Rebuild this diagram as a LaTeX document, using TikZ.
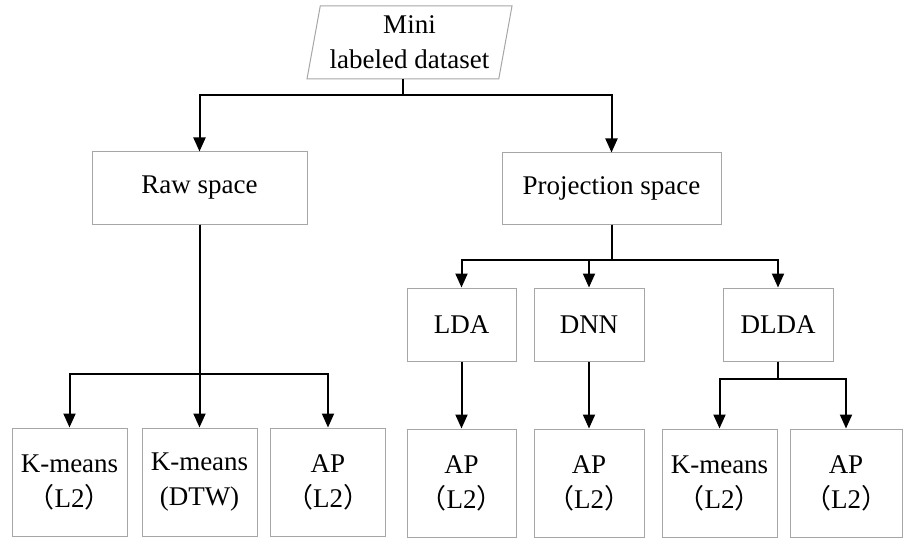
\documentclass[tikz,border=0pt]{standalone}
\usepackage{fontspec}
\setmainfont{Liberation Serif}
\newfontfamily\cjk{Noto Sans CJK SC}
\usetikzlibrary{arrows.meta,shapes.geometric}
\newcommand{\fwl}{{\cjk （}}
\newcommand{\fwr}{{\cjk ）}}
\begin{document}
\begin{tikzpicture}[x=1pt,y=-1pt,
  box/.style={draw=black!35,line width=1pt,rectangle,align=center,inner sep=0pt,
    font=\fontsize{27}{35}\selectfont},
  midbox/.style={box,minimum width=110pt,minimum height=73pt},
  leafbox/.style={box,minimum width=115pt,minimum height=108pt},
  link/.style={line width=2pt,black},
  arr/.style={link,-{Triangle[width=12pt,length=14pt]}}]
\useasboundingbox (0,0) rectangle (904,540);

% input data
\node[box,trapezium,trapezium left angle=76,trapezium right angle=104,
  minimum width=205pt,minimum height=73pt,trapezium stretches body=true] (data) at (409.5,42.5)
  {Mini\\labeled dataset};

% feature spaces
\node[box,minimum width=215pt,minimum height=72pt] (raw) at (199.5,188) {Raw space};
\node[box,minimum width=219pt,minimum height=71pt] (proj) at (611.5,188.5) {Projection space};

% projections
\node[midbox,minimum width=109pt] (lda) at (461.5,324.5) {LDA};
\node[midbox] (dnn) at (589,324.5) {DNN};
\node[midbox] (dlda) at (778,324.5) {DLDA};

% clustering methods
\node[leafbox] (km1) at (69.5,482) {K-means\\\fwl L2\fwr};
\node[leafbox] (km2) at (199.5,482) {K-means\\(DTW)};
\node[leafbox] (ap1) at (328,482) {AP\\\fwl L2\fwr};
\node[leafbox,minimum width=109pt] (ap2) at (461.5,483) {AP\\\fwl L2\fwr};
\node[leafbox,minimum width=110pt] (ap3) at (589,483) {AP\\\fwl L2\fwr};
\node[leafbox] (km3) at (719.5,483) {K-means\\\fwl L2\fwr};
\node[leafbox,minimum width=112pt] (ap4) at (846,483) {AP\\\fwl L2\fwr};

% connectors
\draw[arr] (data.bottom side) -- ++(0,16) -| (raw.north);
\draw[arr] (data.bottom side) -- ++(0,16) -| (proj.north);

\draw[arr] (raw.south) -- ++(0,149) -| (km1.north);
\draw[arr] (raw.south) -- (km2.north);
\draw[arr] (raw.south) -- ++(0,149) -| (ap1.north);

\draw[arr] (proj.south) -- ++(0,35) -| (lda.north);
\draw[arr] (proj.south) -- ++(0,35) -| (dnn.north);
\draw[arr] (proj.south) -- ++(0,35) -| (dlda.north);

\draw[arr] (lda.south) -- (ap2.north);
\draw[arr] (dnn.south) -- (ap3.north);
\draw[arr] (dlda.south) -- ++(0,17) -| (km3.north);
\draw[arr] (dlda.south) -- ++(0,17) -| (ap4.north);
\end{tikzpicture}
\end{document}
